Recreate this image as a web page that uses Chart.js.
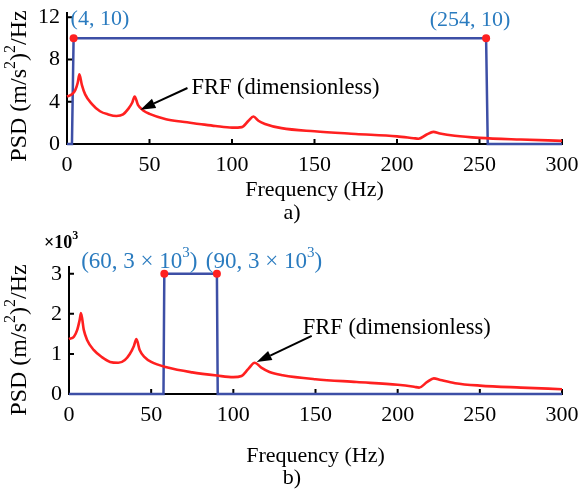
<!DOCTYPE html>
<html>
<head>
<meta charset="utf-8">
<script src="https://cdn.jsdelivr.net/npm/chart.js@4.4.0/dist/chart.umd.min.js"></script>
<style>
  body { margin: 0; background: #fff; }
  #wrap { position: relative; width: 579px; height: 493px; }
  canvas { position: absolute; left: 0; }
</style>
</head>
<body>
<div id="wrap">
  <canvas id="chartA" width="579" height="228" style="top:0px"></canvas>
  <canvas id="chartB" width="579" height="265" style="top:228px"></canvas>
</div>
<script>
const FONT = "'Liberation Serif', 'Times New Roman', serif";

// axis ticks
const xTicks = [0, 50, 100, 150, 200, 250, 300];
const yTicksA = [0, 4, 8, 12];
const yTicksB = [0, 1, 2, 3];

// a) FRF curve (dimensionless)
const freqA = [0, 3, 5, 6.5, 7.5, 9, 11, 15, 20, 25, 30, 34, 37, 39.5, 41, 43, 46, 50, 60, 70, 80, 90, 100, 106, 110, 113, 116, 120, 130, 150, 175, 200, 210, 213, 218, 222, 226, 235, 250, 275, 300];
const frfA = [4.5, 4.7, 5.1, 5.8, 6.6, 5.6, 4.7, 3.8, 3.1, 2.8, 2.65, 2.8, 3.3, 3.9, 4.5, 3.7, 3.2, 2.85, 2.35, 2.1, 1.9, 1.7, 1.55, 1.6, 2.2, 2.6, 2.2, 1.9, 1.5, 1.2, 0.95, 0.72, 0.55, 0.5, 0.9, 1.15, 1.0, 0.78, 0.58, 0.42, 0.3];
// a) input PSD
const inFreqA = [0, 3, 4, 254, 255, 300];
const inPsdA = [0, 0, 10, 10, 0, 0];
const cornerFreqA = [4, 254];
const cornerPsdA = [10, 10];
const cornerTextA = [
  [["(4, 10)", 0]],
  [["(254, 10)", 0]]
];

// b) FRF curve (dimensionless)
const freqB = [0, 3, 5, 6.5, 7.3, 9, 11, 15, 20, 25, 30, 34, 37, 39.5, 41, 43, 46, 50, 60, 75, 90, 100, 105, 109, 113, 117, 122, 130, 150, 175, 200, 210, 213, 218, 222, 226, 235, 250, 275, 300];
const frfB = [1.37, 1.43, 1.6, 1.85, 2.02, 1.6, 1.35, 1.1, 0.92, 0.8, 0.78, 0.85, 1.0, 1.2, 1.37, 1.1, 0.92, 0.8, 0.66, 0.54, 0.46, 0.42, 0.45, 0.62, 0.78, 0.66, 0.55, 0.47, 0.37, 0.3, 0.23, 0.18, 0.16, 0.3, 0.39, 0.35, 0.27, 0.21, 0.16, 0.12];
// b) input PSD (x10^3)
const inFreqB = [0, 57.5, 58, 90, 90.5, 300];
const inPsdB = [0, 0, 3, 3, 0, 0];
const cornerFreqB = [58, 90];
const cornerPsdB = [3, 3];
const cornerTextB = [
  [["(60, 3 × 10", 0], ["3", 1], [")", 0]],
  [["(90, 3 × 10", 0], ["3", 1], [")", 0]]
];

const yTitle = [["PSD (m/s", 0], ["2", 1], [")", 0], ["2", 1], ["/Hz", 0]];

function pts(xs, ys) {
  return xs.map((v, i) => ({ x: v, y: ys[i] }));
}

// text with small raised parts
function drawRich(ctx, parts, x, y, size, align, weight) {
  const fonts = parts.map(p => (weight || "") + " " + (p[1] ? Math.round(size * 0.65) : size) + "px " + FONT);
  let w = 0;
  parts.forEach((p, i) => { ctx.font = fonts[i]; w += ctx.measureText(p[0]).width; });
  let cx = align === "center" ? x - w / 2 : (align === "right" ? x - w : x);
  ctx.textAlign = "left";
  ctx.textBaseline = "middle";
  parts.forEach((p, i) => {
    ctx.font = fonts[i];
    ctx.fillText(p[0], cx, p[1] ? y - size * 0.38 : y);
    cx += ctx.measureText(p[0]).width;
  });
}

const annotate = {
  id: "annotate",
  beforeDatasetsDraw(chart) {
    const { ctx, scales: { x, y } } = chart;
    ctx.save();
    ctx.strokeStyle = "#000";
    ctx.lineWidth = 2;
    ctx.beginPath();
    x.ticks.forEach(t => {
      if (t.value === 0) return;
      const px = x.getPixelForValue(t.value);
      ctx.moveTo(px, y.bottom);
      ctx.lineTo(px, y.bottom - 5);
    });
    y.ticks.forEach(t => {
      if (t.value === 0) return;
      const py = y.getPixelForValue(t.value);
      ctx.moveTo(x.left, py);
      ctx.lineTo(x.left + 5, py);
    });
    ctx.stroke();
    ctx.restore();
  },
  afterDraw(chart, args, o) {
    const { ctx, scales: { x, y } } = chart;
    ctx.save();
    // corner labels
    ctx.fillStyle = "#2a7bbf";
    o.cornerFreq.forEach((f, i) => {
      const px = x.getPixelForValue(f);
      const py = y.getPixelForValue(o.cornerPsd[i]);
      const l = o.labelPos[i];
      drawRich(ctx, o.cornerText[i], px + l[0], py + l[1], o.labelSize, l[2]);
    });
    // arrow to the FRF curve
    ctx.fillStyle = "#000";
    ctx.strokeStyle = "#000";
    const x0 = x.getPixelForValue(o.arrowFrom[0]), y0 = y.getPixelForValue(o.arrowFrom[1]);
    const x1 = x.getPixelForValue(o.arrowTo[0]), y1 = y.getPixelForValue(o.arrowTo[1]);
    const ang = Math.atan2(y1 - y0, x1 - x0);
    const hl = 15, hw = 5;
    const bx = x1 - hl * Math.cos(ang), by = y1 - hl * Math.sin(ang);
    ctx.lineWidth = 2;
    ctx.beginPath();
    ctx.moveTo(x0, y0);
    ctx.lineTo(bx, by);
    ctx.stroke();
    ctx.beginPath();
    ctx.moveTo(x1, y1);
    ctx.lineTo(bx + hw * Math.sin(ang), by - hw * Math.cos(ang));
    ctx.lineTo(bx - hw * Math.sin(ang), by + hw * Math.cos(ang));
    ctx.closePath();
    ctx.fill();
    drawRich(ctx, [["FRF (dimensionless)", 0]], x0 + o.textOffset[0], y0 + o.textOffset[1], 22.5, "left");
    // y title
    ctx.save();
    ctx.translate(o.yTitlePos[0], o.yTitlePos[1]);
    ctx.rotate(-Math.PI / 2);
    drawRich(ctx, yTitle, 0, 0, 24, "center");
    ctx.restore();
    // multiplier
    if (o.multiplier) {
      drawRich(ctx, o.multiplier, o.multiplierPos[0], o.multiplierPos[1], 18, "left", "bold");
    }
    // caption
    drawRich(ctx, [[o.caption, 0]], 292, o.captionY, 22, "center");
    ctx.restore();
  }
};

function makeChart(id, cfg) {
  const axisFont = { family: FONT, size: 22 };
  return new Chart(document.getElementById(id), {
    type: "line",
    data: {
      datasets: [
        {
          type: "scatter",
          data: pts(cfg.cornerFreq, cfg.cornerPsd),
          pointRadius: 4,
          pointBackgroundColor: "#ff2020",
          pointBorderWidth: 0,
          clip: 8
        },
        {
          data: pts(cfg.freq, cfg.frf),
          borderColor: "#ff2020",
          borderWidth: 2.6,
          pointRadius: 0,
          cubicInterpolationMode: "monotone",
          clip: 8
        },
        {
          data: pts(cfg.inFreq, cfg.inPsd),
          borderColor: "#3d4fa6",
          borderWidth: 2.5,
          pointRadius: 0,
          tension: 0,
          clip: 8
        }
      ]
    },
    options: {
      responsive: false,
      animation: false,
      layout: { padding: { top: cfg.padTop, right: 17, left: 0, bottom: 0 } },
      plugins: {
        legend: { display: false },
        tooltip: { enabled: false },
        annotate: cfg
      },
      scales: {
        x: {
          type: "linear",
          min: 0,
          max: 300,
          afterBuildTicks: s => { s.ticks = xTicks.map(v => ({ value: v })); },
          afterFit: s => { s.height = cfg.xHeight; s.paddingLeft = 0; s.paddingRight = 0; },
          grid: { display: false, drawTicks: false },
          border: { display: true, color: "#000", width: 2 },
          ticks: { color: "#000", font: axisFont, padding: 8, maxRotation: 0, autoSkip: false },
          title: { display: true, text: "Frequency (Hz)", color: "#000", font: axisFont, padding: { top: 0, bottom: cfg.titlePad } }
        },
        y: {
          type: "linear",
          min: 0,
          max: cfg.yMax,
          afterBuildTicks: s => { s.ticks = cfg.yTicks.map(v => ({ value: v })); },
          afterFit: s => { s.width = cfg.yWidth; s.paddingTop = 0; s.paddingBottom = 0; },
          grid: { display: false, drawTicks: false },
          border: { display: true, color: "#000", width: 2 },
          ticks: { color: "#000", font: axisFont, padding: 7 }
        }
      }
    },
    plugins: [annotate]
  });
}

makeChart("chartA", {
  freq: freqA, frf: frfA, inFreq: inFreqA, inPsd: inPsdA,
  cornerFreq: cornerFreqA, cornerPsd: cornerPsdA, cornerText: cornerTextA,
  labelPos: [[-3, -19, "left"], [-16, -18, "center"]], labelSize: 22,
  arrowFrom: [73, 5.3], arrowTo: [44.5, 3.25], textOffset: [4, 0],
  yMax: 12.4, yTicks: yTicksA, yWidth: 67, xHeight: 84, padTop: 13, titlePad: 25,
  yTitlePos: [20, 86], caption: "a)", captionY: 213
});

makeChart("chartB", {
  freq: freqB, frf: frfB, inFreq: inFreqB, inPsd: inPsdB,
  cornerFreq: cornerFreqB, cornerPsd: cornerPsdB, cornerText: cornerTextB,
  labelPos: [[-25, -12, "center"], [47, -12, "center"]], labelSize: 23,
  arrowFrom: [147.7, 1.45], arrowTo: [114.2, 0.8], textOffset: [-9, -8],
  yMax: 3.17, yTicks: yTicksB, yWidth: 69, xHeight: 99, padTop: 39, titlePad: 24,
  yTitlePos: [20, 112], multiplier: [["×10", 0], ["3", 1]], multiplierPos: [44, 15],
  caption: "b)", captionY: 250
});
</script>
</body>
</html>
